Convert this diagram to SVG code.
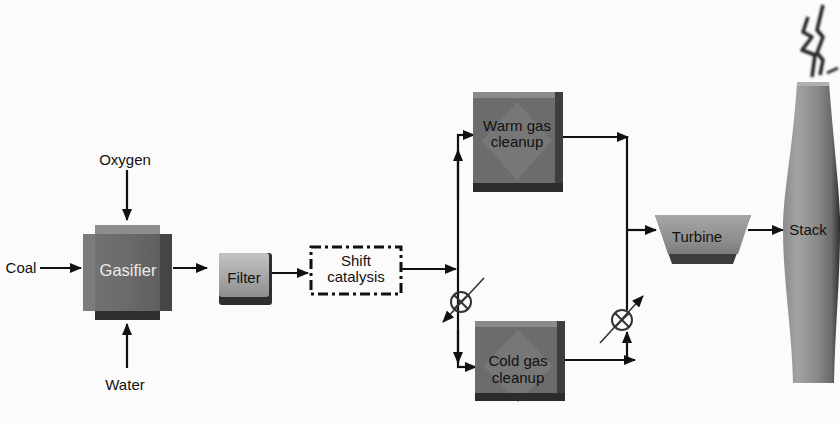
<svg xmlns="http://www.w3.org/2000/svg" width="840" height="424" viewBox="0 0 840 424">
  <style>
    .lbl { font-family: "Liberation Sans", Arial, sans-serif; font-size: 15px; fill: #111; text-anchor: middle; }
    .lbl-w { font-family: "Liberation Sans", Arial, sans-serif; font-size: 16.5px; fill: #ececec; text-anchor: middle; }
    .flow { fill: none; stroke: #111; stroke-width: 2.2; }
    .valve { fill: none; stroke: #333; stroke-width: 2; }
  </style>
  <defs>
    <marker id="ah" viewBox="0 0 12 10" refX="11" refY="5" markerWidth="12" markerHeight="10" markerUnits="userSpaceOnUse" orient="auto">
      <path d="M0,0 L12,5 L0,10 z" fill="#111"/>
    </marker>
    <linearGradient id="gBody" x1="0" y1="0" x2="1" y2="0">
      <stop offset="0" stop-color="#747474"/>
      <stop offset="0.5" stop-color="#6a6a6a"/>
      <stop offset="0.85" stop-color="#606060"/>
      <stop offset="1" stop-color="#3e3e3e"/>
    </linearGradient>
    <linearGradient id="gFilter" x1="0" y1="0" x2="0" y2="1">
      <stop offset="0" stop-color="#c4c4c4"/>
      <stop offset="1" stop-color="#8e8e8e"/>
    </linearGradient>
    <linearGradient id="gStack" x1="0" y1="0" x2="1" y2="0">
      <stop offset="0" stop-color="#8c8c8c"/>
      <stop offset="0.25" stop-color="#a2a2a2"/>
      <stop offset="0.6" stop-color="#8a8a8a"/>
      <stop offset="0.85" stop-color="#6a6a6a"/>
      <stop offset="1" stop-color="#2e2e2e"/>
    </linearGradient>
    <linearGradient id="gTurb" x1="0" y1="0" x2="0" y2="1">
      <stop offset="0" stop-color="#a6a6a6"/>
      <stop offset="0.7" stop-color="#8c8c8c"/>
      <stop offset="1" stop-color="#7a7a7a"/>
    </linearGradient>
    <filter id="soft" x="-20%" y="-20%" width="140%" height="140%">
      <feGaussianBlur stdDeviation="0.8"/>
    </filter>
  </defs>

  <rect width="840" height="424" fill="#fbfbfb"/>

  <!-- flow lines -->
  <g id="connectors">
    <line class="flow" x1="40" y1="268" x2="81" y2="268" marker-end="url(#ah)"/>
    <line class="flow" x1="127" y1="170" x2="127" y2="220" marker-end="url(#ah)"/>
    <line class="flow" x1="127" y1="368" x2="127" y2="324" marker-end="url(#ah)"/>
    <line class="flow" x1="173" y1="268" x2="207" y2="268" marker-end="url(#ah)"/>
    <line class="flow" x1="272" y1="273" x2="308" y2="273" marker-end="url(#ah)"/>
    <line class="flow" x1="402" y1="269" x2="456" y2="269" marker-end="url(#ah)"/>
    <!-- splitter trunk -->
    <line class="flow" x1="458" y1="134" x2="458" y2="368"/>
    <line class="flow" x1="458" y1="200" x2="458" y2="150" marker-end="url(#ah)"/>
    <line class="flow" x1="457" y1="135" x2="474" y2="135" marker-end="url(#ah)"/>
    <line class="flow" x1="458" y1="330" x2="458" y2="363" marker-end="url(#ah)"/>
    <line class="flow" x1="457" y1="367" x2="476" y2="367" marker-end="url(#ah)"/>
    <!-- mixer trunk -->
    <line class="flow" x1="563" y1="137" x2="628" y2="137" marker-end="url(#ah)"/>
    <line class="flow" x1="627" y1="136" x2="627" y2="310"/>
    <line class="flow" x1="627" y1="230" x2="656" y2="230" marker-end="url(#ah)"/>
    <line class="flow" x1="748" y1="230" x2="783" y2="230" marker-end="url(#ah)"/>
    <line class="flow" x1="565" y1="360" x2="635" y2="360" marker-end="url(#ah)"/>
    <line class="flow" x1="627" y1="361" x2="627" y2="332" marker-end="url(#ah)"/>
  </g>

  <g id="oxygen"><text class="lbl" x="125" y="165">Oxygen</text></g>
  <g id="coal"><text class="lbl" x="21" y="273">Coal</text></g>
  <g id="water"><text class="lbl" x="125" y="390">Water</text></g>

  <!-- gasifier: notched block -->
  <g id="gasifier">
    <polygon points="95,225 160,225 160,234 172,234 172,311 160,311 160,320 95,320 95,311 83,311 83,234 95,234" fill="url(#gBody)"/>
    <rect x="95" y="225" width="65" height="9" fill="#8e8e8e"/>
    <rect x="83" y="234" width="12" height="77" fill="#7c7c7c"/>
    <rect x="95" y="311" width="65" height="9" fill="#2f2f2f"/>
    <rect x="160" y="234" width="12" height="77" fill="#454545"/>
    <text class="lbl-w" x="128" y="276">Gasifier</text>
  </g>

  <g id="filter">
    <rect x="219" y="253" width="53" height="52" rx="3" fill="#2e2e2e"/>
    <rect x="219" y="253" width="50" height="44" rx="3" fill="url(#gFilter)"/>
    <text class="lbl" x="244" y="283">Filter</text>
  </g>

  <g id="shift">
    <rect x="311" y="247" width="90" height="47" fill="none" stroke="#111" stroke-width="3" stroke-dasharray="10,4,3,4"/>
    <text class="lbl" x="356" y="266">Shift</text>
    <text class="lbl" x="356" y="282">catalysis</text>
  </g>

  <g id="warm-gas">
    <rect x="473" y="92" width="90" height="100" fill="#6c6c6c"/>
    <rect x="473" y="92" width="90" height="6" fill="#8a8a8a"/>
    <rect x="555" y="92" width="8" height="100" fill="#3e3e3e"/>
    <polygon points="517,102 552,141 517,180 482,141" fill="#777777"/>
    <rect x="473" y="183" width="90" height="9" fill="#2c2c2c"/>
    <text class="lbl" x="517" y="131">Warm gas</text>
    <text class="lbl" x="517" y="147">cleanup</text>
  </g>

  <g id="cold-gas">
    <rect x="475" y="321" width="90" height="80" fill="#6c6c6c"/>
    <rect x="475" y="321" width="90" height="6" fill="#8a8a8a"/>
    <rect x="557" y="321" width="8" height="80" fill="#3e3e3e"/>
    <polygon points="518,330 553,366 518,402 483,366" fill="#777777"/>
    <rect x="475" y="393" width="90" height="8" fill="#2c2c2c"/>
    <text class="lbl" x="518" y="366">Cold gas</text>
    <text class="lbl" x="518" y="383">cleanup</text>
  </g>

  <g id="valve-split">
    <circle class="valve" cx="461" cy="302" r="10"/>
    <line class="valve" x1="454" y1="295" x2="468" y2="309"/>
    <line class="valve" x1="468" y1="295" x2="454" y2="309"/>
    <line x1="484" y1="278" x2="443" y2="322" stroke="#333" stroke-width="1.6" marker-end="url(#ah)"/>
  </g>

  <g id="valve-mix">
    <circle class="valve" cx="622" cy="320" r="10"/>
    <line class="valve" x1="615" y1="313" x2="629" y2="327"/>
    <line class="valve" x1="629" y1="313" x2="615" y2="327"/>
    <line x1="600" y1="343" x2="643" y2="296" stroke="#333" stroke-width="1.6" marker-end="url(#ah)"/>
  </g>

  <g id="turbine">
    <polygon points="655,215 751,215 733,264 672,264" fill="#3c3c3c"/>
    <polygon points="655,215 751,215 738,254 668,254" fill="url(#gTurb)"/>
    <text class="lbl" x="697" y="242">Turbine</text>
  </g>

  <g id="stack">
    <path d="M797,82 L829,82 C834,150 841,200 840,230 C840,280 835,330 834,383 L793,383 C792,330 783,280 783,230 C783,190 793,150 797,82 Z" fill="url(#gStack)"/>
    <rect x="797" y="82" width="32" height="4" fill="#b0b0b0"/>
    <text class="lbl" x="808" y="235">Stack</text>
    <g fill="none" stroke="#222" stroke-width="3.5" stroke-linejoin="round" filter="url(#soft)">
      <path d="M808,17 L803,32 L812,37 L802,50 L815,55 L812,77"/>
      <path d="M823,5 L817,30 L823,37 L817,53 L823,60 L820,75"/>
      <path d="M827,73 L838,68" stroke-width="2.5"/>
    </g>
  </g>
</svg>
